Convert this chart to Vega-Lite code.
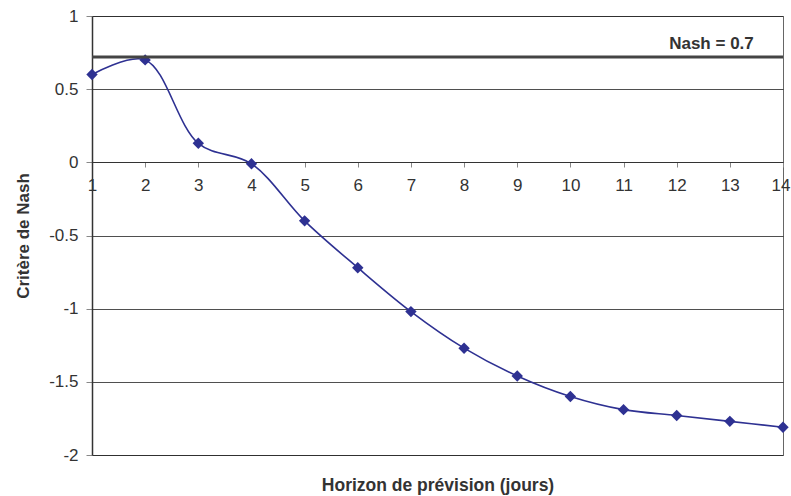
{
  "$schema": "https://vega.github.io/schema/vega-lite/v6.json",
  "width": 691,
  "height": 439,
  "autosize": {"type": "none"},
  "padding": {"left": 92, "top": 16, "right": 8, "bottom": 41},
  "background": "white",
  "config": {
    "font": "Liberation Sans",
    "view": {"stroke": "#666", "strokeWidth": 1}
  },
  "datasets": {
    "nash": [
      {"jour": 1, "nash": 0.60},
      {"jour": 2, "nash": 0.70},
      {"jour": 3, "nash": 0.13},
      {"jour": 4, "nash": -0.01},
      {"jour": 5, "nash": -0.40},
      {"jour": 6, "nash": -0.72},
      {"jour": 7, "nash": -1.02},
      {"jour": 8, "nash": -1.27},
      {"jour": 9, "nash": -1.46},
      {"jour": 10, "nash": -1.60},
      {"jour": 11, "nash": -1.69},
      {"jour": 12, "nash": -1.73},
      {"jour": 13, "nash": -1.77},
      {"jour": 14, "nash": -1.81}
    ],
    "seuil": [{"valeur": 0.72, "label": "Nash = 0.7", "lx": 13.45, "ly": 0.81}]
  },
  "layer": [
    {
      "data": {"name": "nash"},
      "mark": {"type": "line", "interpolate": "catmull-rom", "color": "#2E3192", "strokeWidth": 1.6},
      "encoding": {
        "x": {
          "field": "jour", "type": "quantitative",
          "scale": {"domain": [1, 14], "nice": false, "zero": false},
          "axis": {
            "title": "Horizon de prévision (jours)",
            "titleFontSize": 17.5, "titleFontWeight": "bold", "titleColor": "#333",
            "titleY": 323, "titleBaseline": "middle",
            "offset": -293,
            "values": [1,2,3,4,5,6,7,8,9,10,11,12,13,14],
            "format": "d",
            "labelFontSize": 17, "labelColor": "#333", "labelPadding": 10,
            "labelFlush": false, "labelOverlap": false,
            "labelAlign": {"condition": {"test": "datum.value == 14", "value": "right"}, "value": "center"},
            "labelOffset": {"condition": {"test": "datum.value == 14", "value": 7}, "value": 0},
            "tickColor": "#888", "tickSize": 5,
            "domainColor": "#333", "domainWidth": 1.2,
            "grid": false
          }
        },
        "y": {
          "field": "nash", "type": "quantitative",
          "scale": {"domain": [-2, 1], "nice": false, "zero": false},
          "axis": {
            "title": "Critère de Nash",
            "titleFontSize": 17, "titleFontWeight": "bold", "titleColor": "#333",
            "titlePadding": 16,
            "values": [-2, -1.5, -1, -0.5, 0, 0.5, 1],
            "labelExpr": "'' + datum.value",
            "labelFontSize": 17, "labelColor": "#333", "labelPadding": 8,
            "tickColor": "#888", "tickSize": 6,
            "domainColor": "#333", "domainWidth": 1.5,
            "grid": true, "gridColor": "#222", "gridWidth": 0.8
          }
        }
      }
    },
    {
      "data": {"name": "nash"},
      "mark": {"type": "point", "shape": "diamond", "filled": true, "color": "#2E3192", "size": 130, "opacity": 1},
      "encoding": {
        "x": {"field": "jour", "type": "quantitative"},
        "y": {"field": "nash", "type": "quantitative"}
      }
    },
    {
      "data": {"name": "seuil"},
      "mark": {"type": "rule", "color": "#444", "strokeWidth": 3},
      "encoding": {
        "y": {"field": "valeur", "type": "quantitative"}
      }
    },
    {
      "data": {"name": "seuil"},
      "mark": {"type": "text", "align": "right", "baseline": "middle", "fontSize": 17, "fontWeight": "bold", "color": "#333"},
      "encoding": {
        "x": {"field": "lx", "type": "quantitative"},
        "y": {"field": "ly", "type": "quantitative"},
        "text": {"field": "label"}
      }
    }
  ]
}
